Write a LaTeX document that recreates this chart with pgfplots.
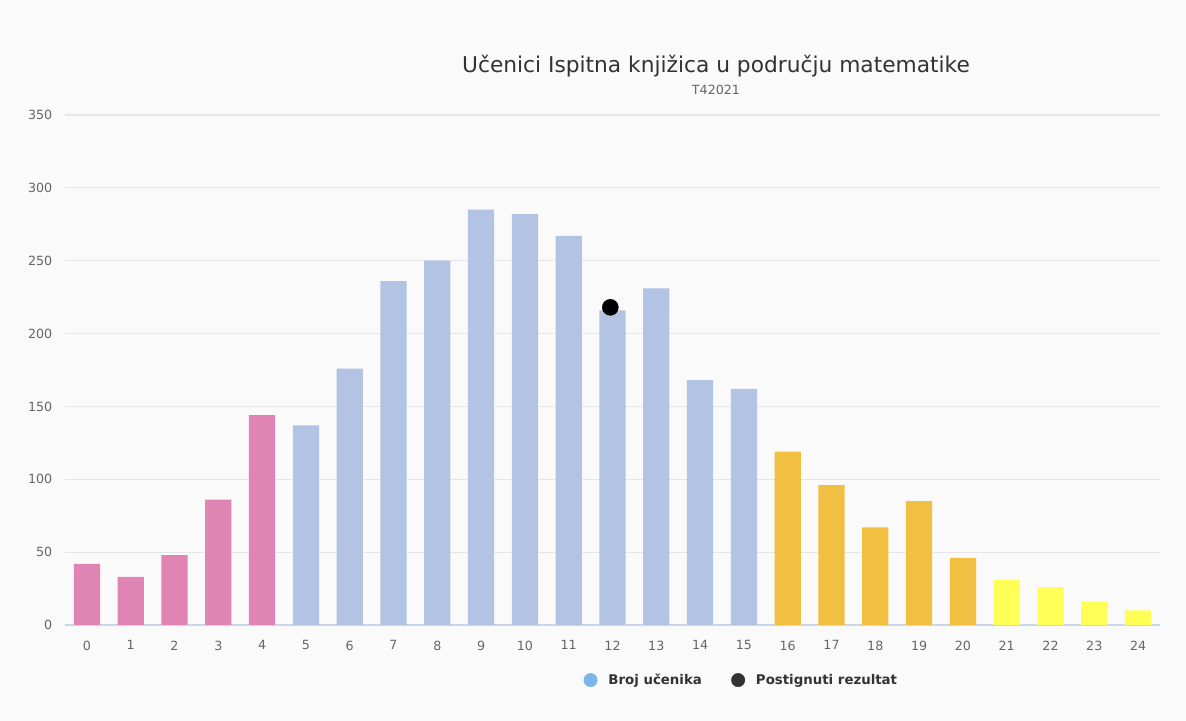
\documentclass[border=0pt]{standalone}
\usepackage{pgfplots}
\pgfplotsset{compat=1.18}
\usepackage{fontspec}
\setmainfont{DejaVu Sans}
\definecolor{bgcol}{HTML}{FAFAFA}
\definecolor{gridcol}{HTML}{E6E6E6}
\definecolor{axiscol}{HTML}{CCD6EB}
\definecolor{labcol}{HTML}{666666}
\definecolor{titlecol}{HTML}{333333}
\definecolor{pinkbar}{HTML}{E084B4}
\definecolor{bluebar}{HTML}{B3C3E3}
\definecolor{orangebar}{HTML}{F1BF42}
\definecolor{yellowbar}{HTML}{FFFF55}
\definecolor{legblue}{HTML}{7CB5EC}
\definecolor{legdark}{HTML}{333333}
\begin{document}
\begin{tikzpicture}
\fill[bgcol] (0pt,0pt) rectangle (889.5pt,540.75pt);
\node[font=\fontsize{16.3pt}{19pt}\selectfont, text=titlecol] at (537pt,491.25pt) {Učenici Ispitna knjižica u području matematike};
\node[font=\fontsize{9.5pt}{11pt}\selectfont, text=labcol] at (537pt,473pt) {T42021};
\begin{axis}[
  at={(48.75pt,72pt)}, anchor=south west,
  scale only axis, width=821.25pt, height=382.5pt,
  xmin=-0.5, xmax=24.5, ymin=0, ymax=350,
  xtick={0,1,...,24}, ytick={0,50,...,350},
  axis lines*=left,
  x axis line style={draw=axiscol, line width=0.8pt},
  y axis line style={draw=none},
  tick style={draw=none},
  ymajorgrids, major grid style={draw=gridcol, line width=0.8pt},
  /pgf/number format/assume math mode=true,
  tick label style={font=\fontsize{9.5pt}{11pt}\selectfont, text=labcol},
  xticklabel style={yshift=-4pt},
  yticklabel style={xshift=-6pt},
  ybar, bar width=0.6, bar shift=0pt,
  legend columns=2,
  legend style={at={(0.618,-0.108)}, anchor=center, draw=none, fill=none,
    font=\bfseries\fontsize{10pt}{12pt}\selectfont, text=titlecol,
    /tikz/every even column/.append style={column sep=20pt}},
]
\addplot[forget plot, fill=pinkbar, draw=none] coordinates {
(0,42) (1,33) (2,48) (3,86) (4,144)};
\addplot[forget plot, fill=bluebar, draw=none] coordinates {
(5,137) (6,176) (7,236) (8,250) (9,285) (10,282) (11,267) (12,216) (13,231) (14,168) (15,162)};
\addplot[forget plot, fill=orangebar, draw=none] coordinates {
(16,119) (17,96) (18,67) (19,85) (20,46)};
\addplot[forget plot, fill=yellowbar, draw=none] coordinates {
(21,31) (22,26) (23,16) (24,10)};
\addplot[forget plot, only marks, mark=*, mark size=6pt, color=black] coordinates {(11.95,218)};
\addlegendimage{legend image code/.code={\fill[legblue] (0cm,0cm) circle (5pt); \path[draw=none,fill=none] (0cm,0cm) -- (0.4cm,0cm);}}
\addlegendentry{Broj učenika}
\addlegendimage{legend image code/.code={\fill[legdark] (0cm,0cm) circle (5pt); \path[draw=none,fill=none] (0cm,0cm) -- (0.4cm,0cm);}}
\addlegendentry{Postignuti rezultat}
\end{axis}
\end{tikzpicture}
\end{document}
